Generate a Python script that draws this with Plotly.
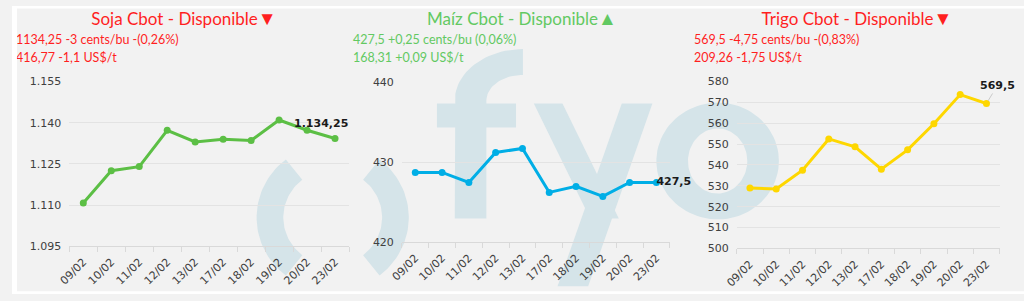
import numpy as np
import plotly.graph_objects as go

# ---------------- data ----------------
dates = ["09/02", "10/02", "11/02", "12/02", "13/02", "17/02", "18/02", "19/02", "20/02", "23/02"]
soja = [1110.75, 1122.5, 1124.0, 1137.25, 1133.0, 1134.0, 1133.5, 1141.0, 1137.25, 1134.25]
maiz = [428.75, 428.75, 427.5, 431.25, 431.75, 426.25, 427.0, 425.75, 427.5, 427.5]
trigo = [529.0, 528.5, 537.5, 552.5, 548.75, 538.0, 547.25, 559.75, 573.75, 569.5]

titles = ["Soja Cbot - Disponible", "Maíz Cbot - Disponible", "Trigo Cbot - Disponible"]
arrows = ["▼", "▲", "▼"]
sub_line1 = ["1134,25 -3 cents/bu -(0,26%)", "427,5 +0,25 cents/bu (0,06%)", "569,5 -4,75 cents/bu -(0,83%)"]
sub_line2 = ["416,77 -1,1 US$/t", "168,31 +0,09 US$/t", "209,26 -1,75 US$/t"]

W, H = 1024, 301
BG = "#f2f2f2"
WM = "#d5e4e9"
RED = "#ff1f1f"
GREEN = "#62c962"


def fmt_es(v):
    s = "{:,.2f}".format(v).rstrip("0").rstrip(".")
    return s.replace(",", "X").replace(".", ",").replace("X", ".")


def px_x(p):
    return p / W


def px_y(p):
    return 1 - p / H


fig = go.Figure()


# ---------- watermark logo (background subplot x/y, 1 unit = 1 px) ----------
def add_poly(xs, ys):
    xs = list(xs)
    ys = [H - v for v in ys]
    fig.add_trace(go.Scatter(x=xs + [xs[0]], y=ys + [ys[0]], mode="lines", fill="toself",
                             fillcolor=WM, line=dict(width=0, color=WM),
                             xaxis="x", yaxis="y", hoverinfo="skip", showlegend=False))


cx, cy, r_out, r_in = 324.5, 221.0, 77.0, 50.0
for a0, a1 in [(128, 232), (-52, 52)]:
    ang = np.radians(np.linspace(a0, a1, 40))
    xs = list(cx + r_out * np.cos(ang)) + list(cx + r_in * np.cos(ang[::-1]))
    ys = list(cy - r_out * np.sin(ang)) + list(cy - r_in * np.sin(ang[::-1]))
    add_poly(xs, ys)

# f : stem + hook
t = np.radians(np.linspace(180, 90, 25))
hx_out = 517 + 69 * np.cos(t)
hy_out = 99 - 54 * np.sin(t)
hx_in = 517 + 37 * np.cos(t[::-1])
hy_in = 99 - 27 * np.sin(t[::-1])
add_poly([448] + list(hx_out) + list(hx_in) + [480],
         [222] + list(hy_out) + list(hy_in) + [222])
# f : crossbar
add_poly([430, 510, 510, 430], [102, 102, 127, 127])
# y : long right stroke and left arm
add_poly([617, 648, 583, 552], [102, 102, 293, 293])
add_poly([528, 557, 614, 585], [102, 102, 222, 222])
# o : ring
t = np.radians(np.linspace(0, 360, 90))
add_poly(list(714 + 62 * np.cos(t)) + list(714 + 30 * np.cos(t[::-1])),
         list(162 + 61 * np.sin(t)) + list(162 + 34 * np.sin(t[::-1])))

# ---------- panels ----------
panels = [
    dict(vals=soja, color="#5cbf45", xd=[58, 341], yd=[79, 251], rng=[1095, 1155], dt=15,
         tcol=RED, tx=174, sx=4),
    dict(vals=maiz, color="#00aee6", xd=[394.5, 665.6], yd=[80, 247], rng=[420, 440], dt=10,
         tcol=GREEN, tx=516, sx=345),
    dict(vals=trigo, color="#fed700", xd=[733.4, 999.3], yd=[79, 253.3], rng=[500, 580], dt=10,
         tcol=RED, tx=855, sx=690),
]

annotations = []
layout_axes = {}
for i, p in enumerate(panels):
    n = i + 2
    xa, ya = "x%d" % n, "y%d" % n
    fig.add_trace(go.Scatter(x=dates, y=p["vals"], mode="lines+markers",
                             line=dict(color=p["color"], width=3),
                             marker=dict(color=p["color"], size=7),
                             xaxis=xa, yaxis=ya, showlegend=False))
    layout_axes["xaxis%d" % n] = dict(
        domain=[px_x(p["xd"][0]), px_x(p["xd"][1])], anchor=ya, type="category",
        range=[-0.5, len(dates) - 0.5],
        showgrid=False, showline=True, linecolor="#d9d9d9", linewidth=1,
        ticks="outside", tickson="boundaries", ticklen=5, tickcolor="#d9d9d9",
        tickangle=-45, ticklabelstandoff=4,
        tickfont=dict(family="DejaVu Sans", size=11, color="#404040"),
        zeroline=False, fixedrange=True)
    layout_axes["yaxis%d" % n] = dict(
        domain=[px_y(p["yd"][1]), px_y(p["yd"][0])], anchor=xa, range=p["rng"],
        dtick=p["dt"], tick0=p["rng"][0], tickformat=",d", ticklabelstandoff=7,
        showgrid=True, gridcolor="#e3e3e3", gridwidth=1, zeroline=False, showline=False,
        ticks="", tickfont=dict(family="DejaVu Sans", size=11, color="#404040"),
        fixedrange=True)
    # title (centred) and subtitles (left aligned) as text marks in the pixel subplot
    fig.add_trace(go.Scatter(
        x=[p["tx"]], y=[H - 15], mode="text", textposition="middle center",
        text=["%s<span style='font-size:19px'>%s</span>" % (titles[i], arrows[i])],
        textfont=dict(family="Lato", size=17, color=p["tcol"]), cliponaxis=False,
        xaxis="x", yaxis="y", hoverinfo="skip", showlegend=False))
    fig.add_trace(go.Scatter(
        x=[p["sx"], p["sx"]], y=[H - 36, H - 55], mode="text", textposition="middle right",
        text=[sub_line1[i], sub_line2[i]], marker=dict(size=1), cliponaxis=False,
        textfont=dict(family="Lato", size=12.5, color=p["tcol"]),
        xaxis="x", yaxis="y", hoverinfo="skip", showlegend=False))

lab_font = dict(family="DejaVu Sans", size=11, color="#1a1a1a")
annotations.append(dict(xref="x2", yref="y2", x=dates[-1], y=soja[-1], showarrow=False,
                        text="<b>%s</b>" % fmt_es(soja[-1]), xshift=-14, yshift=15, font=lab_font))
fig.add_trace(go.Scatter(x=[dates[-1]], y=[maiz[-1]], mode="text", textposition="middle right",
                         text=["<b>%s</b>" % fmt_es(maiz[-1])], marker=dict(size=1),
                         textfont=lab_font, xaxis="x3", yaxis="y3", cliponaxis=False,
                         hoverinfo="skip", showlegend=False))
annotations.append(dict(xref="x4", yref="y4", x=dates[-1], y=trigo[-1], showarrow=True,
                        arrowhead=0, arrowwidth=0.8, arrowcolor="#bfbfbf", ax=11, ay=-18,
                        standoff=3, text="<b>%s</b>" % fmt_es(trigo[-1]), font=lab_font))

shapes = [
    dict(type="rect", xref="paper", yref="paper", x0=0, x1=1, y0=px_y(2.5), y1=1,
         fillcolor="white", line=dict(width=0), layer="above"),
    dict(type="rect", xref="paper", yref="paper", x0=0, x1=1, y0=0, y1=px_y(298),
         fillcolor="white", line=dict(width=0), layer="above"),
    dict(type="rect", xref="paper", yref="paper", x0=0, x1=px_x(5), y0=0, y1=1,
         fillcolor="white", line=dict(width=0), layer="above"),
]

fig.update_layout(
    width=W, height=H, margin=dict(l=0, r=0, t=0, b=0),
    paper_bgcolor=BG, plot_bgcolor="rgba(0,0,0,0)",
    separators=",.", showlegend=False,
    xaxis=dict(domain=[0, 1], range=[0, W], visible=False, fixedrange=True),
    yaxis=dict(domain=[0, 1], range=[0, H], visible=False, fixedrange=True),
    annotations=annotations, shapes=shapes,
    **layout_axes,
)

fig.write_html("out.html", config=dict(displayModeBar=False))
